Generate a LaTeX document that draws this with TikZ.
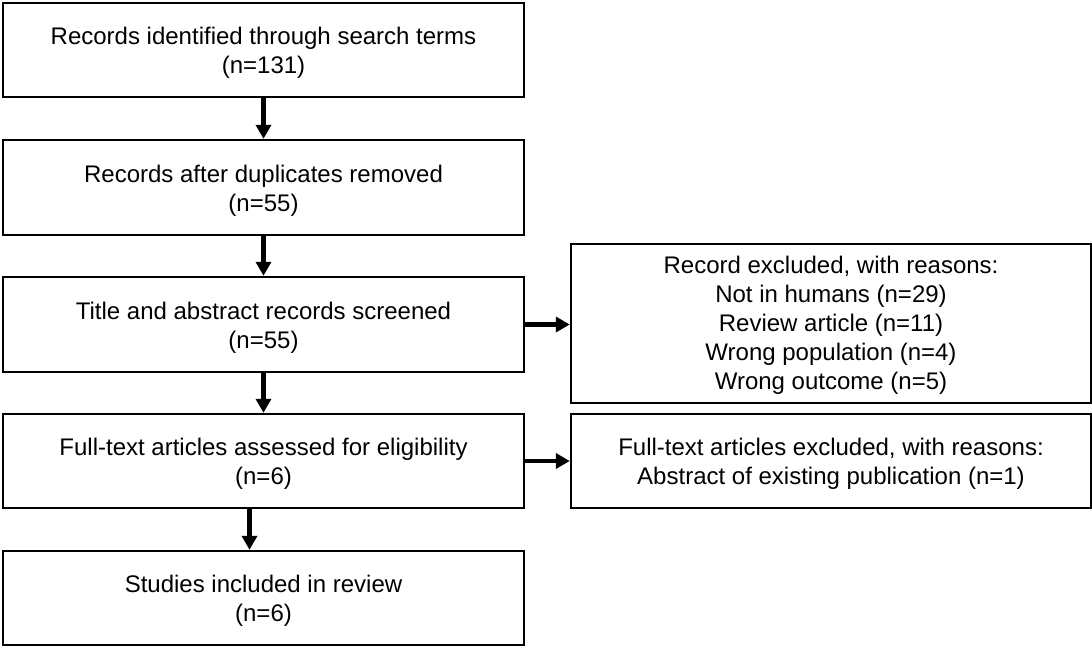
\documentclass[tikz,border=0pt]{standalone}
\usepackage{fontspec}
\setmainfont{Liberation Sans}
\usetikzlibrary{arrows.meta}
\begin{document}
\begin{tikzpicture}[x=1pt,y=-1pt,
  box/.style={draw, line width=2.4pt, rectangle, inner sep=0pt},
  lbox/.style={box, minimum width=521pt},
  rbox/.style={box, minimum width=520pt},
  txt/.style={align=center, inner sep=0pt, font=\fontsize{24}{29}\selectfont},
  arr/.style={line width=4.8pt, -{Triangle[length=14pt,width=15pt]}}]
\useasboundingbox (0,0) rectangle (1092,646);
\node[lbox, minimum height=94pt] (b1) at (263.5,50) {};
\node[lbox, minimum height=95pt] (b2) at (263.5,187.5) {};
\node[lbox, minimum height=95pt] (b3) at (263.5,324.5) {};
\node[lbox, minimum height=94pt] (b4) at (263.5,461) {};
\node[lbox, minimum height=94pt] (b5) at (263.5,598) {};
\node[rbox, minimum height=159pt] (r1) at (831,323.5) {};
\node[rbox, minimum height=94pt] (r2) at (831,461) {};
\node[txt] (t1) at ([yshift=-3pt]b1.center) {Records identified through search terms\\(n=131)};
\node[txt] (t2) at ([yshift=-3pt]b2.center) {Records after duplicates removed\\(n=55)};
\node[txt] (t3) at ([yshift=-3pt]b3.center) {Title and abstract records screened\\(n=55)};
\node[txt] (t4) at ([yshift=-3pt]b4.center) {Full-text articles assessed for eligibility\\(n=6)};
\node[txt] (t5) at ([yshift=-3pt]b5.center) {Studies included in review\\(n=6)};
\node[txt] (u1) at ([yshift=-2pt]r1.center) {Record excluded, with reasons:\\Not in humans (n=29)\\Review article (n=11)\\Wrong population (n=4)\\Wrong outcome (n=5)};
\node[txt] (u2) at ([yshift=-3pt]r2.center) {Full-text articles excluded, with reasons:\\Abstract of existing publication (n=1)};
\draw[arr] (b1.south) -- (b2.north);
\draw[arr] (b2.south) -- (b3.north);
\draw[arr] (b3.south) -- (b4.north);
\draw[arr] ([xshift=-14pt]b4.south) -- ([xshift=-14pt]b5.north);
\draw[arr] (b3.east) -- (b3.east -| r1.west);
\draw[arr] (b4.east) -- (b4.east -| r2.west);
\end{tikzpicture}
\end{document}
